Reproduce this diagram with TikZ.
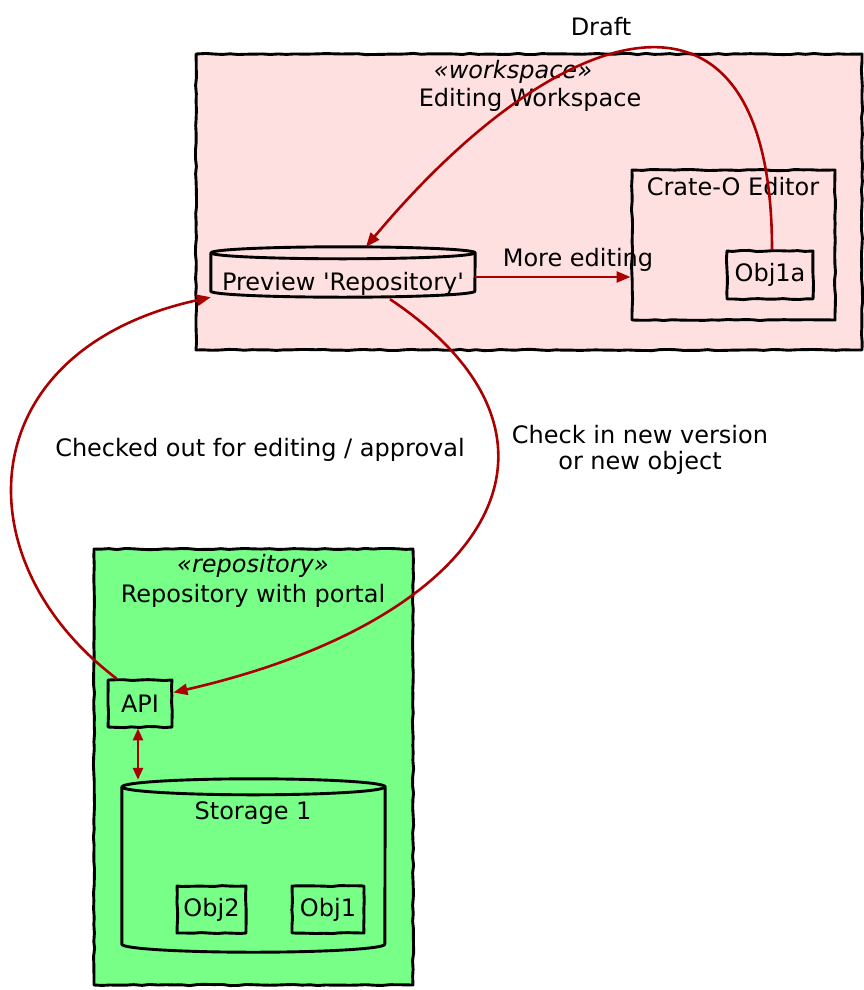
\documentclass[tikz,border=0pt]{standalone}
\usepackage{fontspec}
\setmainfont{DejaVu Sans}[Ligatures=TeXOff]
\usetikzlibrary{arrows.meta,calc,decorations.pathmorphing}
\definecolor{wsfill}{HTML}{FFE0E0}
\definecolor{repofill}{HTML}{77FF88}
\definecolor{arr}{HTML}{AA0000}
\begin{document}
\begin{tikzpicture}[x=1pt,y=-1pt,
  font=\fontsize{24}{28}\selectfont,
  sketch/.style={decorate, decoration={random steps, segment length=8pt, amplitude=0.6pt}},
  box/.style={draw=black, line width=2.9pt, line join=round, rectangle, inner sep=0pt, sketch},
  cyl/.style={draw=black, line width=2.9pt, line join=round},
  tip/.style={Triangle[length=14pt,width=11pt]},
  conn/.style={draw=arr, line width=2.6pt, -{Triangle[length=14pt,width=11pt]}},
  lbl/.style={inner sep=0pt, align=center},
  stereo/.style={inner sep=0pt, font=\fontsize{24}{28}\selectfont\itshape}]
\pgfmathsetseed{7}
\useasboundingbox (0,0) rectangle (864,990);
\fill[white] (0,0) rectangle (864,990);

% ---------- workspace ----------
\node[box, fill=wsfill, minimum width=666pt, minimum height=296pt] (ws) at (529,202) {};
\node[stereo] (wsst) at (513,72) {«workspace»};
\node[lbl] (wst) at (530,100) {Editing Workspace};
\node[box, fill=wsfill, minimum width=203pt, minimum height=150pt] (crate) at (733.5,245) {};
\node[lbl] (cratet) at (733,187) {Crate-O Editor};
\node[box, fill=wsfill, minimum width=86pt, minimum height=48pt] (obj1a) at (770,275) {Obj1a};

% preview cylinder
\node[inner sep=0pt, minimum width=264pt, minimum height=50pt] (prev) at (343,272) {};
\path[cyl, fill=wsfill] ($(prev.north west)+(0,6)$) -- ($(prev.south west)+(0,-6)$)
  arc[start angle=180, end angle=360, x radius=132pt, y radius=6pt]
  -- ($(prev.north east)+(0,6)$)
  arc[start angle=0, end angle=180, x radius=132pt, y radius=6pt] -- cycle;
\draw[cyl] ($(prev.north west)+(0,6)$) arc[start angle=180, end angle=360, x radius=132pt, y radius=6pt];
\node[lbl] (prevt) at (343,284) {Preview 'Repository'};

% ---------- repository ----------
\node[box, fill=repofill, minimum width=319pt, minimum height=436pt] (repo) at (253.5,767) {};
\node[stereo] (repost) at (253,566) {«repository»};
\node[lbl] (repot) at (253,596) {Repository with portal};
\node[box, fill=repofill, minimum width=64pt, minimum height=47pt] (api) at (140,703.5) {API};

% storage cylinder
\node[inner sep=0pt, minimum width=263pt, minimum height=173pt] (stor) at (253.5,865.5) {};
\path[cyl, fill=repofill] ($(stor.north west)+(0,8)$) -- ($(stor.south west)+(0,-8)$)
  arc[start angle=180, end angle=360, x radius=131.5pt, y radius=8pt]
  -- ($(stor.north east)+(0,8)$)
  arc[start angle=0, end angle=180, x radius=131.5pt, y radius=8pt] -- cycle;
\draw[cyl] ($(stor.north west)+(0,8)$) arc[start angle=180, end angle=360, x radius=131.5pt, y radius=8pt];
\node[lbl] (stort) at (253,813) {Storage 1};
\node[box, fill=repofill, minimum width=69pt, minimum height=47pt] (obj2) at (211.5,909.5) {Obj2};
\node[box, fill=repofill, minimum width=72pt, minimum height=47pt] (obj1) at (328,909.5) {Obj1};

% ---------- connectors ----------
\draw[conn] ($(obj1a.north)+(2,0)$) .. controls (772,-50) and (560,15) .. ($(prev.north)+(23,0)$);
\node[lbl] (draftt) at (601,27) {Draft};

\draw[conn] ($(prev.east)+(0,5)$) -- ($(crate.west)+(0,32)$);
\node[lbl] (moret) at (578,260) {More editing};

\draw[conn] ($(api.north west)+(10,0)$) .. controls (-40,560) and (-30,350) .. (prev.south west);
\node[lbl] (outt) at (260,450) {Checked out for editing / approval};

\draw[conn] ($(prev.south)+(47,2)$) .. controls (600,440) and (490,620) .. ($(api.east)+(0,-11)$);
\node[lbl, font=\fontsize{24}{26}\selectfont] (int) at (640,450) {Check in new version\\or new object};

\draw[draw=arr, line width=2.6pt, {Triangle[length=12pt,width=10pt]}-{Triangle[length=12pt,width=10pt]}]
  ($(api.south)+(-2,0)$) -- ($(api.south |- stor.north)+(-2,1)$);
\end{tikzpicture}
\end{document}
